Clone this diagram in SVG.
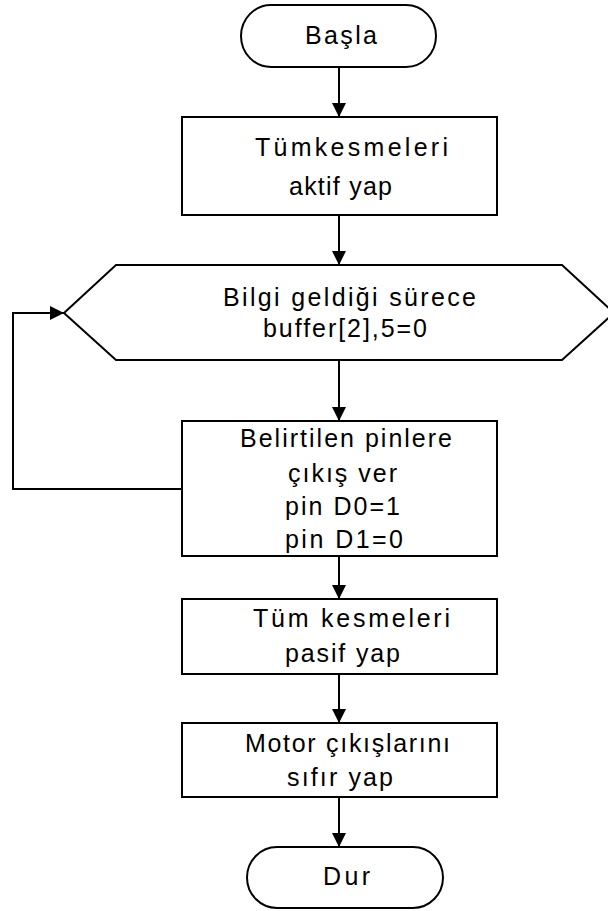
<svg xmlns="http://www.w3.org/2000/svg" width="608" height="911" viewBox="0 0 608 911">
  <defs>
    <style>
      .shape { fill: #ffffff; stroke: #000000; stroke-width: 2; }
      .wire { fill: none; stroke: #000000; stroke-width: 2; }
      .lbl { font-family: "Liberation Sans", Arial, sans-serif; font-size: 25px; fill: #000000; }
    </style>
    <marker id="arrow" viewBox="0 0 14 14" refX="14" refY="7" markerWidth="14" markerHeight="14" markerUnits="userSpaceOnUse" orient="auto">
      <path d="M0,0 L14,7 L0,14 Z" fill="#000000"/>
    </marker>
  </defs>
  <rect width="608" height="911" fill="#ffffff"/>

  <!-- connectors -->
  <g id="connectors">
    <line class="wire" x1="339" y1="67" x2="339" y2="117" marker-end="url(#arrow)"/>
    <line class="wire" x1="339" y1="215" x2="339" y2="265" marker-end="url(#arrow)"/>
    <line class="wire" x1="339" y1="360" x2="339" y2="421" marker-end="url(#arrow)"/>
    <line class="wire" x1="339" y1="556" x2="339" y2="599" marker-end="url(#arrow)"/>
    <line class="wire" x1="339" y1="674" x2="339" y2="723" marker-end="url(#arrow)"/>
    <line class="wire" x1="339" y1="797" x2="339" y2="847" marker-end="url(#arrow)"/>
    <polyline class="wire" points="182,489 13,489 13,313 64,313" marker-end="url(#arrow)"/>
  </g>

  <!-- start terminal -->
  <g id="start">
    <rect class="shape" x="241" y="5" width="195" height="62" rx="30" ry="31"/>
    <text class="lbl" x="305" y="44" textLength="72" lengthAdjust="spacing">Başla</text>
  </g>

  <!-- enable interrupts -->
  <g id="enable">
    <rect class="shape" x="182" y="117" width="315" height="98"/>
    <text class="lbl" x="255" y="156" textLength="193" lengthAdjust="spacing">Tümkesmeleri</text>
    <text class="lbl" x="289" y="195" textLength="103" lengthAdjust="spacing">aktif yap</text>
  </g>

  <!-- loop condition -->
  <g id="loop">
    <polygon class="shape" points="64,313 116,265 562,265 614,313 562,360 116,360"/>
    <text class="lbl" x="223" y="306" textLength="253" lengthAdjust="spacing">Bilgi geldiği sürece</text>
    <text class="lbl" x="263" y="337" textLength="164" lengthAdjust="spacing">buffer[2],5=0</text>
  </g>

  <!-- set output pins -->
  <g id="output">
    <rect class="shape" x="182" y="421" width="315" height="135"/>
    <text class="lbl" x="240" y="447" textLength="212" lengthAdjust="spacing">Belirtilen pinlere</text>
    <text class="lbl" x="288" y="482" textLength="109" lengthAdjust="spacing">çıkış ver</text>
    <text class="lbl" x="285" y="515" textLength="115" lengthAdjust="spacing">pin D0=1</text>
    <text class="lbl" x="285" y="548" textLength="118" lengthAdjust="spacing">pin D1=0</text>
  </g>

  <!-- disable interrupts -->
  <g id="disable">
    <rect class="shape" x="182" y="599" width="315" height="75"/>
    <text class="lbl" x="253" y="627" textLength="197" lengthAdjust="spacing">Tüm kesmeleri</text>
    <text class="lbl" x="285" y="662" textLength="115" lengthAdjust="spacing">pasif yap</text>
  </g>

  <!-- reset motor outputs -->
  <g id="reset">
    <rect class="shape" x="182" y="723" width="315" height="74"/>
    <text class="lbl" x="245" y="752" textLength="205" lengthAdjust="spacing">Motor çıkışlarını</text>
    <text class="lbl" x="287" y="786" textLength="106" lengthAdjust="spacing">sıfır yap</text>
  </g>

  <!-- end terminal -->
  <g id="end">
    <rect class="shape" x="247" y="847" width="196" height="61" rx="30" ry="30.5"/>
    <text class="lbl" x="323" y="885" textLength="47" lengthAdjust="spacing">Dur</text>
  </g>
</svg>
